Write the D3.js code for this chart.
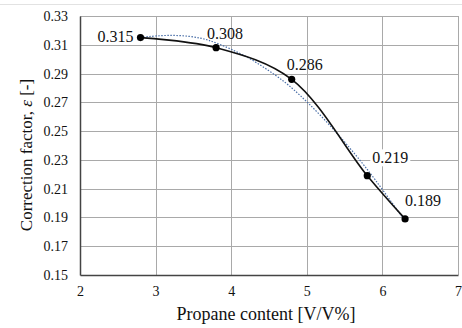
<!DOCTYPE html>
<html>
<head>
<meta charset="utf-8">
<script src="https://cdn.jsdelivr.net/npm/d3@7"></script>
<style>
  body { margin: 0; background: #fff; }
  svg text { font-family: "Times New Roman", "Liberation Serif", "DejaVu Serif", serif; fill: #111; }
</style>
</head>
<body>
<svg id="chart"></svg>
<script>
// Correction factor vs propane content
const propane = [2.8, 3.8, 4.8, 5.8, 6.3];
const epsilon = [0.315, 0.308, 0.286, 0.219, 0.189];
const labels = ["0.315", "0.308", "0.286", "0.219", "0.189"];
// dotted trendline
const trendX = [2.8, 3.0, 3.3, 3.6, 3.8, 4.2, 4.6, 4.8, 5.2, 5.6, 5.8, 6.0, 6.3];
const trendY = [0.315, 0.3163, 0.3168, 0.315, 0.3115, 0.3025, 0.2885, 0.2805, 0.2605, 0.2365, 0.2235, 0.2095, 0.1875];
const xTicks = [2, 3, 4, 5, 6, 7];
const yTicks = [0.15, 0.17, 0.19, 0.21, 0.23, 0.25, 0.27, 0.29, 0.31, 0.33];

const W = 462, H = 328;
const margin = { top: 16, right: 4, bottom: 53, left: 80 },
    width = W - margin.left - margin.right,
    height = H - margin.top - margin.bottom;

const root = d3.select("#chart")
    .attr("width", W)
    .attr("height", H);

// faint figure border line at top
root.append("line")
    .attr("x1", 0).attr("x2", W)
    .attr("y1", 4.5).attr("y2", 4.5)
    .attr("stroke", "#e2e2e2");

const svg = root.append("g")
    .attr("transform", `translate(${margin.left},${margin.top})`);

const x = d3.scaleLinear().domain([2, 7]).range([0, width]);
const y = d3.scaleLinear().domain([0.15, 0.33]).range([height, 0]);

// grid
svg.append("g")
    .selectAll("line")
    .data(yTicks.slice(1))
    .enter().append("line")
    .attr("x1", 0).attr("x2", width)
    .attr("y1", d => Math.round(y(d)) + 0.5)
    .attr("y2", d => Math.round(y(d)) + 0.5)
    .attr("stroke", "#a9a9a9");

svg.append("g")
    .selectAll("line")
    .data(xTicks.slice(1))
    .enter().append("line")
    .attr("x1", d => Math.round(x(d)) + 0.5)
    .attr("x2", d => Math.round(x(d)) + 0.5)
    .attr("y1", 0).attr("y2", height)
    .attr("stroke", "#a9a9a9");

// axes
const xAxis = svg.append("g")
    .attr("transform", `translate(0,${height})`)
    .call(d3.axisBottom(x).tickValues(xTicks).tickSize(0).tickPadding(11).tickFormat(d3.format("d")));
const yAxis = svg.append("g")
    .call(d3.axisLeft(y).tickValues(yTicks).tickSize(0).tickPadding(12).tickFormat(d3.format(".2f")));

[xAxis, yAxis].forEach(a => {
    a.attr("font-family", null).attr("font-size", null);
    a.select(".domain").attr("stroke", "#444").attr("stroke-width", 1.5);
    a.selectAll("text").style("font-size", "14px").attr("fill", "#222");
});

// trendline
const pts = propane.map((p, i) => ({ x: p, y: epsilon[i] }));
const trend = trendX.map((p, i) => ({ x: p, y: trendY[i] }));

svg.append("path")
    .datum(trend)
    .attr("fill", "none")
    .attr("stroke", "#4a6fa8")
    .attr("stroke-width", 1.2)
    .attr("stroke-dasharray", "1.5,1.5")
    .attr("d", d3.line().x(d => x(d.x)).y(d => y(d.y)).curve(d3.curveBasis));

svg.append("path")
    .datum(pts)
    .attr("fill", "none")
    .attr("stroke", "#111")
    .attr("stroke-width", 1.6)
    .attr("d", d3.line().x(d => x(d.x)).y(d => y(d.y)).curve(d3.curveCatmullRom.alpha(0.5)));

svg.selectAll(".dot")
    .data(pts)
    .enter().append("circle")
    .attr("class", "dot")
    .attr("cx", d => x(d.x))
    .attr("cy", d => y(d.y))
    .attr("r", 3.6)
    .attr("fill", "#000");

// data labels
const lblOffset = [[-7, -1, "end"], [9, -14, "middle"], [13, -15, "middle"], [23, -18, "middle"], [18, -18, "middle"]];
const lbl = svg.selectAll(".lbl")
    .data(pts)
    .enter().append("g")
    .attr("class", "lbl")
    .attr("transform", (d, i) => `translate(${x(d.x) + lblOffset[i][0]},${y(d.y) + lblOffset[i][1]})`);

lbl.each(function (d, i) {
    const g = d3.select(this);
    const t = g.append("text")
        .attr("text-anchor", lblOffset[i][2])
        .attr("dy", "0.35em")
        .style("font-size", "16px")
        .text(labels[i]);
    if (i >= 3) {
        const b = t.node().getBBox();
        g.insert("rect", "text")
            .attr("x", b.x - 2).attr("y", b.y)
            .attr("width", b.width + 4).attr("height", b.height)
            .attr("fill", "#fff");
    }
});

// axis titles
svg.append("text")
    .attr("x", width / 2 - 3)
    .attr("y", height + 45)
    .attr("text-anchor", "middle")
    .style("font-size", "18px")
    .text("Propane content [V/V%]");

const yt = svg.append("text")
    .attr("transform", `translate(${26 - margin.left},${155 - margin.top}) rotate(-90)`)
    .attr("text-anchor", "middle")
    .attr("dy", "0.35em")
    .style("font-size", "17px");
yt.append("tspan").text("Correction factor, ");
yt.append("tspan").style("font-style", "italic").text("ε");
yt.append("tspan").text(" [-]");
</script>
</body>
</html>
